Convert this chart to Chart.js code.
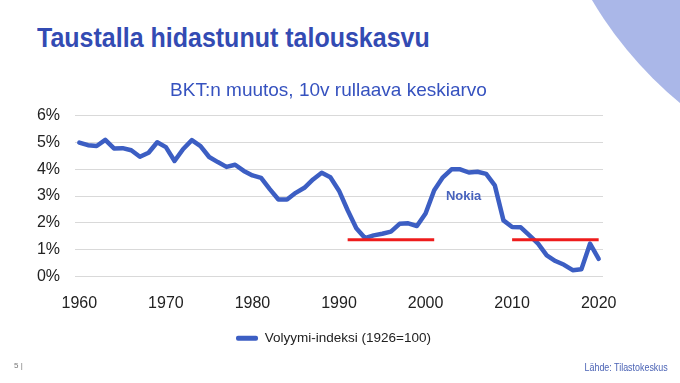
<!DOCTYPE html>
<html>
<head>
<meta charset="utf-8">
<script src="https://cdn.jsdelivr.net/npm/chart.js@4/dist/chart.umd.min.js"></script>
<style>
  html, body { margin: 0; padding: 0; width: 680px; height: 383px; overflow: hidden; background: #fff; }
  #deco { position: absolute; left: 537px; top: -596px; width: 790px; height: 790px; border-radius: 50%; background: #aab7e8; }
  #title { position: absolute; left: 37px; top: 24px; font-family: "Liberation Sans", Arial, sans-serif; font-weight: bold; font-size: 28px; line-height: 28px; color: #334bb3; white-space: nowrap; transform: scaleX(0.893); transform-origin: 0 0; }
  #page { position: absolute; left: 14px; top: 361px; font-family: "Liberation Sans", Arial, sans-serif; font-size: 8px; color: #777; }
  #source { position: absolute; right: 12px; top: 361px; font-family: "Liberation Sans", Arial, sans-serif; font-size: 11px; color: #4b63b5; transform: scaleX(0.81); transform-origin: 100% 0; white-space: nowrap; }
  canvas { position: absolute; left: 0; top: 0; }
</style>
</head>
<body>
<div id="deco"></div>
<div id="title">Taustalla hidastunut talouskasvu</div>
<canvas id="c" width="680" height="383"></canvas>
<div id="page">5 |</div>
<div id="source">Lähde: Tilastokeskus</div>
<script>
const years = ['1960','1961','1962','1963','1964','1965','1966','1967','1968','1969',
  '1970','1971','1972','1973','1974','1975','1976','1977','1978','1979',
  '1980','1981','1982','1983','1984','1985','1986','1987','1988','1989',
  '1990','1991','1992','1993','1994','1995','1996','1997','1998','1999',
  '2000','2001','2002','2003','2004','2005','2006','2007','2008','2009',
  '2010','2011','2012','2013','2014','2015','2016','2017','2018','2019','2020'];

const volumeGrowth = [5.00, 4.90, 4.87, 5.10, 4.78, 4.79, 4.71, 4.47, 4.62, 5.01,
  4.83, 4.31, 4.76, 5.09, 4.87, 4.46, 4.27, 4.09, 4.17, 3.94,
  3.77, 3.68, 3.26, 2.87, 2.87, 3.12, 3.31, 3.62, 3.87, 3.70,
  3.20, 2.47, 1.80, 1.43, 1.53, 1.59, 1.67, 1.96, 1.98, 1.88,
  2.35, 3.22, 3.70, 4.00, 4.00, 3.88, 3.91, 3.83, 3.40, 2.09,
  1.84, 1.83, 1.53, 1.22, 0.78, 0.57, 0.43, 0.23, 0.26, 1.22, 0.65];

const level1990s = [null,null,null,null,null,null,null,null,null,null,
  null,null,null,null,null,null,null,null,null,null,
  null,null,null,null,null,null,null,null,null,null,
  null,1.37,1.37,1.37,1.37,1.37,1.37,1.37,1.37,1.37,
  1.37,1.37,null,null,null,null,null,null,null,null,
  null,null,null,null,null,null,null,null,null,null,null];

const level2010s = [null,null,null,null,null,null,null,null,null,null,
  null,null,null,null,null,null,null,null,null,null,
  null,null,null,null,null,null,null,null,null,null,
  null,null,null,null,null,null,null,null,null,null,
  null,null,null,null,null,null,null,null,null,null,
  1.37,1.37,1.37,1.37,1.37,1.37,1.37,1.37,1.37,1.37,1.37];

const yTicks = [0, 1, 2, 3, 4, 5, 6];
const seriesName = 'Volyymi-indeksi (1926=100)';
const chartTitle = 'BKT:n muutos, 10v rullaava keskiarvo';
const annotationText = 'Nokia';
const annotationYear = 2004.4;
const annotationValue = 3.0;

const blue = '#3c5ec3';
const red = '#ee1c1c';

const nokiaPlugin = {
  id: 'nokia',
  afterDatasetsDraw(chart) {
    const x = chart.scales.x, y = chart.scales.y;
    const i0 = Math.floor(annotationYear - 1960);
    const f = annotationYear - 1960 - i0;
    const px = x.getPixelForValue(i0) * (1 - f) + x.getPixelForValue(i0 + 1) * f;
    const py = y.getPixelForValue(annotationValue);
    const ctx = chart.ctx;
    ctx.save();
    ctx.font = 'bold 13px "Liberation Sans", Arial, sans-serif';
    ctx.fillStyle = '#4863bd';
    ctx.textAlign = 'center';
    ctx.textBaseline = 'middle';
    ctx.fillText(annotationText, px, py);
    ctx.restore();
  }
};

const blockShift = {
  id: 'blockShift',
  afterLayout(chart) {
    if (chart.titleBlock) { chart.titleBlock.left = 54; }
    if (chart.legend) { chart.legend.left = 64; }
  }
};

new Chart(document.getElementById('c'), {
  type: 'line',
  data: {
    labels: years,
    datasets: [
      { label: seriesName, data: volumeGrowth, borderColor: blue, backgroundColor: blue,
        borderWidth: 4.5, pointRadius: 0, tension: 0, borderJoinStyle: 'round', borderCapStyle: 'round', order: 1 },
      { label: 'taso1', data: level1990s, borderColor: red, backgroundColor: red,
        borderWidth: 3, pointRadius: 0, tension: 0, spanGaps: false, order: 0 },
      { label: 'taso2', data: level2010s, borderColor: red, backgroundColor: red,
        borderWidth: 3, pointRadius: 0, tension: 0, spanGaps: false, order: 0 }
    ]
  },
  options: {
    responsive: false,
    animation: false,
    events: [],
    layout: { padding: { top: 79, left: 20, right: 77, bottom: 28 } },
    plugins: {
      title: {
        display: true, text: chartTitle, color: '#3652bf',
        font: { family: '"Liberation Sans", Arial, sans-serif', size: 19, weight: 'normal', lineHeight: 1.2 },
        padding: { top: 0, bottom: 14 }
      },
      legend: {
        position: 'bottom',
        labels: {
          color: '#222',
          font: { family: '"Liberation Sans", Arial, sans-serif', size: 13.5 },
          boxWidth: 22, boxHeight: 5, padding: 8, useBorderRadius: true, borderRadius: 2,
          filter: (item) => item.datasetIndex === 0,
          generateLabels(chart) {
            const items = Chart.defaults.plugins.legend.labels.generateLabels(chart);
            items.forEach(it => { it.lineWidth = 0; it.fillStyle = it.strokeStyle; it.borderRadius = 2; });
            return items;
          }
        }
      },
      tooltip: { enabled: false }
    },
    scales: {
      x: {
        type: 'category',
        offset: true,
        grid: { display: false },
        border: { display: false },
        ticks: {
          autoSkip: false, maxRotation: 0, minRotation: 0, padding: 10, color: '#222',
          font: { family: '"Liberation Sans", Arial, sans-serif', size: 16 },
          callback(v, i) { const y = years[i]; return (parseInt(y) % 10 === 0) ? y : ''; }
        }
      },
      y: {
        min: 0, max: 6,
        afterFit(scale) { scale.width = 55; },
        afterBuildTicks(scale) { scale.ticks = yTicks.map(v => ({ value: v })); },
        grid: { color: '#d9d9d9', lineWidth: 1, drawTicks: false },
        border: { display: false },
        ticks: {
          padding: 15, color: '#222',
          font: { family: '"Liberation Sans", Arial, sans-serif', size: 16 },
          callback: (v) => v + '%'
        }
      }
    }
  },
  plugins: [nokiaPlugin, blockShift]
});
</script>
</body>
</html>
